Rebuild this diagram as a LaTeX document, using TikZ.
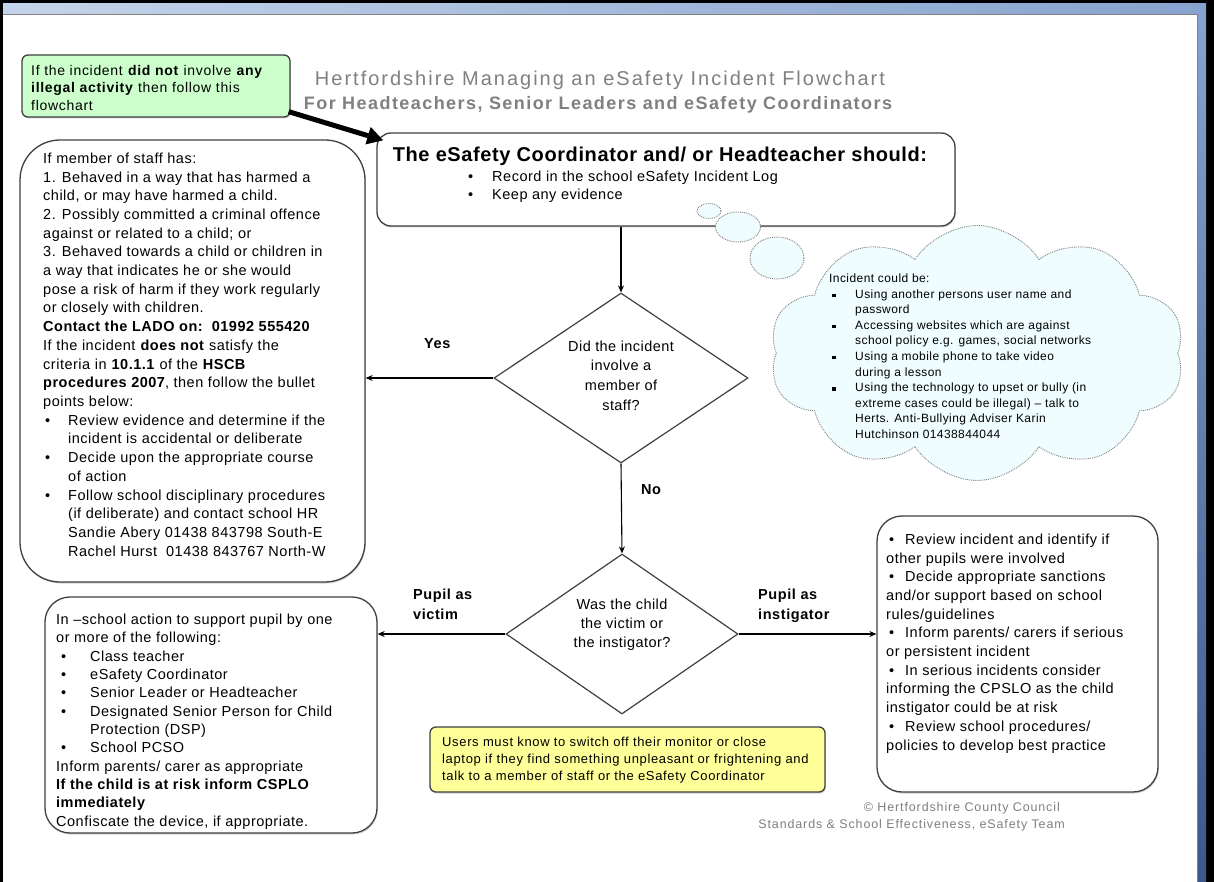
\documentclass[tikz,border=0pt]{standalone}
\usepackage{fontspec}
\setmainfont{Liberation Sans}
\newfontfamily\lsbody[LetterSpace=3.5]{Liberation Sans}
\newfontfamily\lsdia[LetterSpace=3]{Liberation Sans}
\newfontfamily\lsfive[LetterSpace=5]{Liberation Sans}
\newfontfamily\lslbl[LetterSpace=4]{Liberation Sans}
\newfontfamily\lstopt[LetterSpace=3]{Liberation Sans}
\newfontfamily\lstitleA[LetterSpace=10]{Liberation Sans}
\newfontfamily\lstitleB[LetterSpace=8]{Liberation Sans}
\newfontfamily\lscopy[LetterSpace=7]{Liberation Sans}
\usetikzlibrary{shapes.geometric,shapes.symbols,arrows.meta,shadows,calc}
\definecolor{bord}{RGB}{64,64,64}
\definecolor{greenf}{RGB}{204,255,204}
\definecolor{yellowf}{RGB}{255,255,153}
\definecolor{cloudf}{RGB}{240,253,255}
\definecolor{titleg}{RGB}{128,128,128}
\definecolor{bandA}{RGB}{196,212,234}
\definecolor{bandB}{RGB}{134,162,206}
\definecolor{stripB}{RGB}{58,88,138}
\newcommand\mybul{\makebox[25pt][l]{\hspace{2pt}\textbullet}}
\newcommand\myind{\hspace*{25pt}}
\newcommand\vbul{\makebox[34pt][l]{\hspace{5pt}\textbullet}}
\newcommand\vind{\hspace*{34pt}}
\newcommand\rbul{\makebox[19pt][l]{\hspace{3pt}\textbullet}}
\newcommand\sqb{\makebox[26pt][l]{\hspace{3pt}\rule[1pt]{3.5pt}{3.5pt}}}
\newcommand\sqi{\hspace*{26pt}}
\begin{document}
\begin{tikzpicture}[x=1pt,y=-1pt,
  box/.style={draw=bord, line width=1.3pt, fill=white,
    drop shadow={shadow xshift=0.8pt, shadow yshift=-1.5pt, opacity=0.35}},
  txt/.style={inner sep=0pt, align=left, anchor=north west},
  body/.style={font=\lsbody\fontsize{14.5}{#1}\selectfont},
  conn/.style={draw=black, line width=1.1pt, -{Stealth[length=7pt,width=6pt]}},
  lbl/.style={inner sep=0pt, align=left, anchor=north west, font=\lslbl\fontsize{14.5}{20}\selectfont\bfseries},
  dia/.style={shape=diamond, draw=bord, line width=1.2pt, inner sep=0pt, fill=white},
  puff/.style={draw=gray, densely dotted, line width=0.9pt, fill=cloudf, inner sep=0pt}
]
\useasboundingbox (0,0) rectangle (1214,882);
% frame
\fill[white] (0,0) rectangle (1214,882);
\fill[black] (0,0) rectangle (1214,4);
\fill[black] (0,0) rectangle (3,882);
\fill[black] (1206,0) rectangle (1214,882);
\shade[left color=bandA, right color=bandB] (3,4) rectangle (1206,14);
\shade[top color=bandB, bottom color=stripB] (1197,14) rectangle (1206,882);
\draw[gray, line width=1pt] (3,14.5) -- (1197.5,14.5) -- (1197.5,882);

% titles
\node[anchor=base, text=titleg, font=\lstitleA\fontsize{20}{22}\selectfont, inner sep=0pt] (title1) at (600,86) {Hertfordshire Managing an eSafety Incident Flowchart};
\node[anchor=base, text=titleg, font=\lstitleB\fontsize{18}{20}\selectfont\bfseries, inner sep=0pt] (title2) at (598,110) {For Headteachers, Senior Leaders and eSafety Coordinators};

% green note
\node[box, fill=greenf, rounded corners=6pt, minimum width=268pt, minimum height=62pt] (green) at (156,86) {};
\node[txt, font=\lsfive\fontsize{14}{17.5}\selectfont] (greent) at (31,64.8) {If the incident \textbf{did not} involve \textbf{any}\\\textbf{illegal activity} then follow this\\flowchart};

% top box
\node[box, rounded corners=14pt, minimum width=578pt, minimum height=93pt] (top) at (666,179.5) {};
\node[inner sep=0pt, anchor=base, font=\lstopt\fontsize{20}{22}\selectfont\bfseries] (toptitle) at (660,162) {The eSafety Coordinator and/ or Headteacher should:};
\node[txt, body=18] (topb) at (468,170.6) {\makebox[24pt][l]{\textbullet}Record in the school eSafety Incident Log\\\makebox[24pt][l]{\textbullet}Keep any evidence};

\draw[line width=5pt, -{Triangle[length=16pt,width=17pt]}] ($(green.south east)+(-2,-6)$) -- ($(top.north west)+(7,8)$);

% thought bubbles and cloud
\node[puff, ellipse, minimum width=24pt, minimum height=15pt] (b1) at (709,211) {};
\node[puff, ellipse, minimum width=45pt, minimum height=30pt] (b2) at (738,227) {};
\node[puff, ellipse, minimum width=54pt, minimum height=42pt] (b3) at (777,258) {};
\node[puff, cloud, cloud puffs=10, cloud puff arc=115, aspect=1.6, minimum width=415pt, minimum height=255pt] (cloud) at (977,353) {};
\node[txt, font=\lsbody\fontsize{12}{15.6}\selectfont] (cloudt) at (829,273.6) {Incident could be:\\\sqb Using another persons user name and\\\sqi password\\\sqb Accessing websites which are against\\\sqi school policy e.g. games, social networks\\\sqb Using a mobile phone to take video\\\sqi during a lesson\\\sqb Using the technology to upset or bully (in\\\sqi extreme cases could be illegal) – talk to\\\sqi Herts. Anti-Bullying Adviser Karin\\\sqi Hutchinson 01438844044};

% diamonds
\node[dia, minimum width=254pt, minimum height=170pt] (d1) at (621,378) {};
\node[inner sep=0pt, align=center, font=\lsdia\fontsize{14.5}{19.7}\selectfont] (d1t) at (621,375.5) {Did the incident\\involve a\\member of\\staff?};
\node[dia, minimum width=232pt, minimum height=160pt] (d2) at (622,634) {};
\node[inner sep=0pt, align=center, font=\lsdia\fontsize{14.5}{19}\selectfont] (d2t) at (622,625) {Was the child\\the victim or\\the instigator?};

% staff box
\node[box, rounded corners=40pt, minimum width=345pt, minimum height=442pt] (staff) at (192.5,361) {};
\node[txt, body=18.71] (stafft) at (43,152.6) {If member of staff has:\\
1. Behaved in a way that has harmed a\\
child, or may have harmed a child.\\
2. Possibly committed a criminal offence\\
against or related to a child; or\\
3. Behaved towards a child or children in\\
a way that indicates he or she would\\
pose a risk of harm if they work regularly\\
or closely with children.\\
\textbf{Contact the LADO on:\ \ 01992 555420}\\
If the incident \textbf{does not} satisfy the\\
criteria in \textbf{10.1.1} of the \textbf{HSCB}\\
\textbf{procedures 2007}, then follow the bullet\\
points below:\\
\mybul Review evidence and determine if the\\
\myind incident is accidental or deliberate\\
\mybul Decide upon the appropriate course\\
\myind of action\\
\mybul Follow school disciplinary procedures\\
\myind (if deliberate) and contact school HR\\
\myind Sandie Abery 01438 843798 South-E\\
\myind Rachel Hurst\ \ 01438 843767 North-W};

% victim box
\node[box, rounded corners=25pt, minimum width=332pt, minimum height=236pt] (victim) at (211,715) {};
\node[txt, body=18.36] (victimt) at (56,613.6) {In –school action to support pupil by one\\
or more of the following:\\
\vbul Class teacher\\
\vbul eSafety Coordinator\\
\vbul Senior Leader or Headteacher\\
\vbul Designated Senior Person for Child\\
\vind Protection (DSP)\\
\vbul School PCSO\\
Inform parents/ carer as appropriate\\
\textbf{If the child is at risk inform CSPLO}\\
\textbf{immediately}\\
Confiscate the device, if appropriate.};

% instigator box
\node[box, rounded corners=25pt, minimum width=281pt, minimum height=276pt] (inst) at (1017.5,654) {};
\node[txt, body=18.7] (instt) at (886,533.6) {\rbul Review incident and identify if\\
other pupils were involved\\
\rbul Decide appropriate sanctions\\
and/or support based on school\\
rules/guidelines\\
\rbul Inform parents/ carers if serious\\
or persistent incident\\
\rbul In serious incidents consider\\
informing the CPSLO as the child\\
instigator could be at risk\\
\rbul Review school procedures/\\
policies to develop best practice};

% yellow note
\node[box, fill=yellowf, rounded corners=6pt, minimum width=395pt, minimum height=65pt] (users) at (627.5,759.5) {};
\node[txt, font=\lsfive\fontsize{13}{17}\selectfont] (userst) at (442,737.2) {Users must know to switch off their monitor or close\\laptop if they find something unpleasant or frightening and\\talk to a member of staff or the eSafety Coordinator};

% connectors
\draw[conn] (d1.north |- top.south) -- (d1.north);
\draw[conn] (d1.west) -- (d1.west -| staff.east);
\draw[conn] (d1.south) -- (d2.north);
\draw[conn] (d2.west) -- (d2.west -| victim.east);
\draw[conn] (d2.east) -- (d2.east -| inst.west);

% labels
\node[lbl] (yes) at (424,338.6) {Yes};
\node[lbl] (no) at (641,484.6) {No};
\node[lbl] (pv) at (413,588.6) {Pupil as\\victim};
\node[lbl] (pi) at (758,588.6) {Pupil as\\instigator};

% copyright
\node[anchor=base east, text=gray, font=\lscopy\fontsize{12.5}{14}\selectfont, inner sep=0pt] (copy1) at (1060,811) {\copyright\ Hertfordshire County Council};
\node[anchor=base east, text=gray, font=\lscopy\fontsize{12.5}{14}\selectfont, inner sep=0pt] (copy2) at (1065,828) {Standards \& School Effectiveness, eSafety Team};
\end{tikzpicture}
\end{document}
